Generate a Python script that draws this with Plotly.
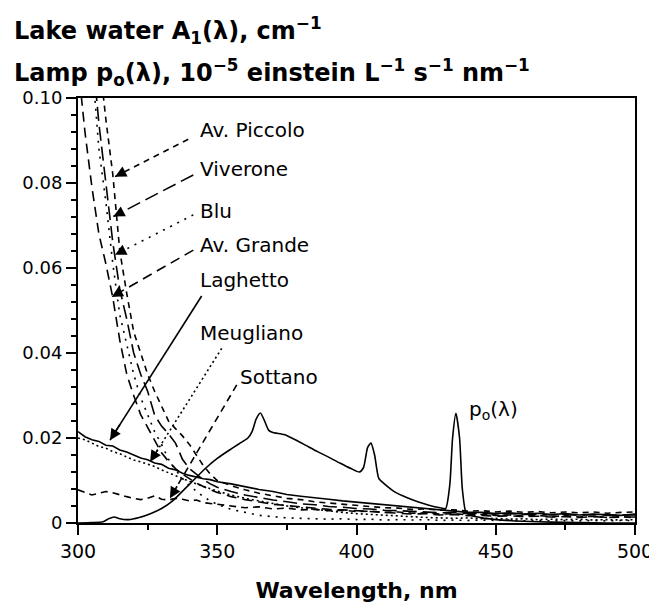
import plotly.graph_objects as go

# ---------------- data ----------------
WL = [300, 302.5, 305, 307.5, 310, 312.5, 315, 317.5, 320, 322.5, 325, 327.5, 330,
      332.5, 335, 337.5, 340, 342.5, 345, 347.5, 350, 355, 360, 365, 370, 375, 380,
      385, 390, 395, 400, 405, 410, 415, 420, 425, 430, 435, 440, 445, 450, 455, 460,
      465, 470, 475, 480, 485, 490, 495, 500]

av_piccolo = [0.160, 0.145, 0.128, 0.110, 0.095, 0.082, 0.064, 0.054, 0.045, 0.040, 0.035,
              0.031, 0.0275, 0.0240, 0.0222, 0.0205, 0.0185, 0.0160, 0.0135, 0.0115, 0.0100,
              0.0088, 0.0078, 0.0070, 0.0064, 0.0058, 0.0055, 0.0050, 0.0047, 0.0044, 0.0041,
              0.0039, 0.0036, 0.0035, 0.0032, 0.0033, 0.0030, 0.0031, 0.0028, 0.0029, 0.0026,
              0.0028, 0.0025, 0.0027, 0.0024, 0.0026, 0.0024, 0.0026, 0.0023, 0.0025, 0.0026]

viverone = [0.140, 0.125, 0.112, 0.094, 0.080, 0.066, 0.055, 0.048, 0.040, 0.035, 0.031,
            0.0254, 0.0228, 0.0210, 0.0188, 0.0150, 0.0128, 0.0114, 0.0102, 0.0092, 0.0084,
            0.0074, 0.0066, 0.0060, 0.0054, 0.0050, 0.0045, 0.0043, 0.0039, 0.0037, 0.0034,
            0.0033, 0.0030, 0.0029, 0.0027, 0.0026, 0.0024, 0.0025, 0.0022, 0.0023, 0.0021,
            0.0022, 0.0020, 0.0021, 0.0019, 0.0020, 0.0018, 0.0020, 0.0018, 0.0019, 0.0019]

blu = [0.150, 0.130, 0.108, 0.088, 0.0756, 0.061, 0.049, 0.042, 0.035, 0.0295, 0.0254,
       0.0215, 0.0185, 0.0150, 0.0125, 0.0105, 0.0088, 0.0075, 0.0062, 0.0052, 0.0044,
       0.0032, 0.0025, 0.0018, 0.0015, 0.0012, 0.0011, 0.0010, 0.0009, 0.0010, 0.0008,
       0.0009, 0.0007, 0.0008, 0.0007, 0.0008, 0.0006, 0.0007, 0.0006, 0.0007, 0.0006,
       0.0007, 0.0005, 0.0006, 0.0005, 0.0006, 0.0005, 0.0006, 0.0005, 0.0006, 0.0006]

av_grande = [0.108, 0.092, 0.079, 0.068, 0.061, 0.053, 0.043, 0.035, 0.030, 0.0255, 0.0225,
             0.0195, 0.0165, 0.0145, 0.0128, 0.0115, 0.0104, 0.0094, 0.0086, 0.0078, 0.0072,
             0.0062, 0.0055, 0.0050, 0.0044, 0.0041, 0.0038, 0.0035, 0.0032, 0.0031, 0.0029,
             0.0027, 0.0024, 0.0023, 0.0021, 0.0022, 0.0019, 0.0020, 0.0017, 0.0018, 0.0016,
             0.0017, 0.0015, 0.0016, 0.0014, 0.0015, 0.0013, 0.0015, 0.0013, 0.0014, 0.0014]

laghetto = [0.0215, 0.0203, 0.0196, 0.0192, 0.0183, 0.0181, 0.0172, 0.0167, 0.0160, 0.0153,
            0.0149, 0.0141, 0.0138, 0.0129, 0.0125, 0.0117, 0.0112, 0.0108, 0.0104, 0.0102,
            0.0097, 0.0092, 0.0085, 0.0079, 0.0074, 0.0067, 0.0063, 0.0060, 0.0056, 0.0052,
            0.0049, 0.0046, 0.0042, 0.0040, 0.0036, 0.0034, 0.0031, 0.0028, 0.0025, 0.0025,
            0.0022, 0.0024, 0.0021, 0.0023, 0.0020, 0.0022, 0.0019, 0.0021, 0.0020, 0.0018, 0.0021]

meugliano = [0.0200, 0.0196, 0.0188, 0.0180, 0.0176, 0.0168, 0.0163, 0.0155, 0.0148, 0.0144,
             0.0138, 0.0133, 0.0125, 0.0118, 0.0112, 0.0104, 0.0098, 0.0092, 0.0086, 0.0080,
             0.0075, 0.0066, 0.0058, 0.0052, 0.0046, 0.0040, 0.0036, 0.0032, 0.0028, 0.0025,
             0.0022, 0.0020, 0.0018, 0.0016, 0.0015, 0.0013, 0.0012, 0.0011, 0.0012, 0.0010,
             0.0011, 0.0009, 0.0010, 0.0008, 0.0009, 0.0008, 0.0009, 0.0007, 0.0008, 0.0007, 0.0008]

sottano = [0.0078, 0.0072, 0.0066, 0.0070, 0.0074, 0.0071, 0.0066, 0.0062, 0.0058, 0.0055,
           0.0058, 0.0064, 0.0056, 0.0054, 0.0058, 0.0056, 0.0052, 0.0054, 0.0048, 0.0046,
           0.0044, 0.0040, 0.0036, 0.0038, 0.0033, 0.0035, 0.0031, 0.0032, 0.0029, 0.0030,
           0.0027, 0.0028, 0.0025, 0.0026, 0.0023, 0.0024, 0.0021, 0.0022, 0.0019, 0.0020,
           0.0018, 0.0019, 0.0016, 0.0018, 0.0015, 0.0017, 0.0014, 0.0016, 0.0013, 0.0015, 0.0012]

# lamp spectral photon flux p0(lambda)
P0_WL = [300, 305, 309, 311, 313, 315, 318, 322, 326, 330, 334, 338, 342, 346, 350, 354,
         358, 361, 362.5, 364, 365.5, 367, 368.5, 370, 374, 378, 382, 386, 390, 394, 398,
         401, 402.5, 404, 405.2, 406.5, 408, 410, 414, 418, 422, 426, 430, 432, 433.5,
         434.5, 435.7, 437, 438, 439.3, 441, 445, 450, 460, 470, 480, 490, 500]
P0 = [0.0, 0.0001, 0.0003, 0.0010, 0.0014, 0.0010, 0.0008, 0.0013, 0.0022, 0.0034, 0.0052,
      0.0078, 0.0104, 0.0130, 0.0152, 0.0170, 0.0187, 0.0200, 0.0215, 0.0245, 0.0259, 0.0240,
      0.0218, 0.0213, 0.0208, 0.0196, 0.0182, 0.0168, 0.0155, 0.0141, 0.0128, 0.0120, 0.0130,
      0.0178, 0.0188, 0.0160, 0.0105, 0.0092, 0.0072, 0.0060, 0.0050, 0.0042, 0.0036, 0.0034,
      0.0090, 0.0200, 0.0258, 0.0200, 0.0080, 0.0025, 0.0018, 0.0012, 0.0008, 0.0004, 0.0002,
      0.0001, 0.0, 0.0]

SERIES = [
    ("Av. Piccolo", av_piccolo, "6px,5px"),
    ("Viverone", viverone, "14px,6px"),
    ("Blu", blu, "2px,6px"),
    ("Av. Grande", av_grande, "10px,6px"),
    ("Laghetto", laghetto, "solid"),
    ("Meugliano", meugliano, "2px,3px"),
    ("Sottano", sottano, "7px,5px"),
]

# label: (text x, text y, line start x, line start y, arrow tip x, arrow tip y)
LABELS = {
    "Av. Piccolo": (343.1, 0.0925, 339.6, 0.0903, 313.3, 0.0815),
    "Viverone":    (343.1, 0.0833, 341.4, 0.0819, 312.7, 0.0721),
    "Blu":         (343.1, 0.0734, 341.4, 0.0725, 313.3, 0.0631),
    "Av. Grande":  (343.1, 0.0654, 341.4, 0.0642, 312.1, 0.0532),
    "Laghetto":    (343.1, 0.0572, 344.4, 0.0534, 311.5, 0.0195),
    "Meugliano":   (343.1, 0.0447, 351.6, 0.0411, 325.9, 0.0144),
    "Sottano":     (357.4, 0.0344, 357.0, 0.0325, 333.0, 0.0058),
}

X_TICKS = [300, 350, 400, 450, 500]
Y_TICKS = [0, 0.02, 0.04, 0.06, 0.08, 0.10]
Y_TICKTEXT = ["0", "0.02", "0.04", "0.06", "0.08", "0.10"]

TITLE_1 = "Lake water A<sub>1</sub>(λ), cm<sup>−1</sup>"
TITLE_2 = "Lamp p<sub>o</sub>(λ), 10<sup>−5</sup> einstein L<sup>−1</sup> s<sup>−1</sup> nm<sup>−1</sup>"
X_TITLE = "Wavelength, nm"
P0_LABEL = "p<sub>o</sub>(λ)"

FONT = "DejaVu Sans"

fig = go.Figure()

for name, vals, dash in SERIES:
    fig.add_trace(go.Scatter(x=WL, y=vals, mode="lines", name=name,
                             line=dict(color="black", width=1.6, dash=dash)))

fig.add_trace(go.Scatter(x=P0_WL, y=P0, mode="lines", name="p0",
                         line=dict(color="black", width=1.6, shape="spline", smoothing=0.6)))

shapes = []
annotations = []
for name, vals, dash in SERIES:
    tx, ty, sx, sy, ex, ey = LABELS[name]
    shapes.append(dict(type="line", xref="x", yref="y", x0=sx, y0=sy, x1=ex, y1=ey,
                       line=dict(color="black", width=1.6, dash=dash)))
    fx = ex + (sx - ex) * 0.12
    fy = ey + (sy - ey) * 0.12
    annotations.append(dict(x=ex, y=ey, ax=fx, ay=fy, xref="x", yref="y", axref="x", ayref="y",
                            text="", showarrow=True, arrowhead=2, arrowsize=1.4,
                            arrowwidth=1.6, arrowcolor="black"))
    annotations.append(dict(x=tx, y=ty, xref="x", yref="y", text=name, showarrow=False,
                            xanchor="left", yanchor="middle",
                            font=dict(family=FONT, size=20, color="black")))

annotations.append(dict(x=439.7, y=0.0266, xref="x", yref="y", text=P0_LABEL,
                        showarrow=False, xanchor="left", yanchor="middle",
                        font=dict(family=FONT, size=20, color="black")))

annotations.append(dict(x=-0.1185, y=1.16, xref="paper", yref="paper", xanchor="left",
                        yanchor="middle", text=TITLE_1, showarrow=False,
                        font=dict(family=FONT, size=24, color="black", weight="bold")))
annotations.append(dict(x=-0.1185, y=1.06, xref="paper", yref="paper", xanchor="left",
                        yanchor="middle", text=TITLE_2, showarrow=False,
                        font=dict(family=FONT, size=24, color="black", weight="bold")))

fig.update_layout(
    width=649, height=606,
    margin=dict(l=70, r=22, t=90, b=91),
    paper_bgcolor="white", plot_bgcolor="white",
    showlegend=False,
    shapes=shapes,
    annotations=annotations,
    font=dict(family=FONT, color="black"),
)

fig.update_xaxes(range=[300, 500], tickvals=X_TICKS, ticks="outside", ticklen=10, tickwidth=2,
                 tickcolor="black", showline=True, linewidth=2, linecolor="black", mirror=True,
                 showgrid=False, zeroline=False, automargin=False,
                 tickfont=dict(family=FONT, size=19, color="black"),
                 title=dict(text=X_TITLE,
                            font=dict(family=FONT, size=22, color="black", weight="bold"),
                            standoff=22),
                 minor=dict(tickmode="linear", tick0=300, dtick=25, ticks="outside", ticklen=5,
                            tickwidth=1.5, tickcolor="black", showgrid=False))
fig.update_yaxes(range=[0, 0.1], tickvals=Y_TICKS, ticktext=Y_TICKTEXT, ticks="outside",
                 ticklen=10, tickwidth=2, tickcolor="black", showline=True, linewidth=2,
                 linecolor="black", mirror=True, showgrid=False, zeroline=False, automargin=False,
                 tickfont=dict(family=FONT, size=18, color="black"),
                 minor=dict(tickmode="linear", tick0=0, dtick=0.004, ticks="outside", ticklen=5,
                            tickwidth=1.5, tickcolor="black", showgrid=False))

fig.write_html("out.html")
